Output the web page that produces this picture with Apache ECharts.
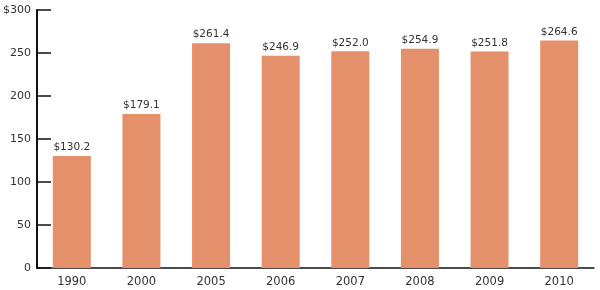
<!DOCTYPE html>
<html><head><meta charset="utf-8">
<script src="https://cdn.jsdelivr.net/npm/echarts@6/dist/echarts.min.js"></script>
<style>html,body{margin:0;padding:0;background:#fff}#c{width:600px;height:290px}</style>
</head><body><div id="c"></div>
<script>
const categories = ['1990','2000','2005','2006','2007','2008','2009','2010'];
const values = [130.2, 179.1, 261.4, 246.9, 252.0, 254.9, 251.8, 264.6];
const yTicks = [0, 50, 100, 150, 200, 250, 300];

const chart = echarts.init(document.getElementById('c'), null, {renderer:'canvas'});
chart.setOption({
  animation:false,
  grid:{left:34, right:6, top:10, bottom:22},
  xAxis:{
    type:'category', data:categories,
    axisLine:{show:true, lineStyle:{color:'#111', width:1.5}},
    axisTick:{show:false},
    axisLabel:{color:'#333', fontSize:11.5, fontFamily:'DejaVu Sans', margin:8}
  },
  yAxis:{
    type:'value', min:0, max:300, interval:50,
    axisLine:{show:true, lineStyle:{color:'#111', width:2}},
    axisTick:{show:true, inside:true, length:14, lineStyle:{color:'#111', width:1.5}},
    splitLine:{show:false},
    axisLabel:{color:'#333', fontSize:11, fontFamily:'DejaVu Sans', margin:6,
      formatter:v => (v === yTicks[yTicks.length-1] ? '$' + v : String(v))}
  },
  series:[{
    type:'bar', data:values, barWidth:38, z:3,
    itemStyle:{color:'#E4906A'},
    label:{show:true, position:'top', distance:3, color:'#333', fontSize:10.5, fontFamily:'DejaVu Sans',
      formatter:p => '$' + p.value.toFixed(1)}
  }]
});
</script></body></html>
